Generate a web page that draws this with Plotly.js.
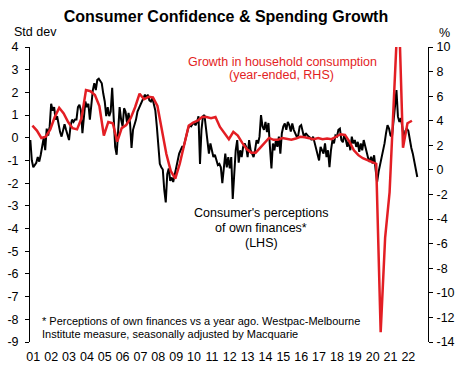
<!DOCTYPE html>
<html>
<head>
<meta charset="utf-8">
<script src="https://cdn.plot.ly/plotly-3.0.1.min.js"></script>
<style>html,body{margin:0;padding:0;background:#fff;}#chart{width:475px;height:373px;}</style>
</head>
<body>
<div id="chart"></div>
<script>
// Consumer's perceptions of own finances (std dev, LHS), monthly from Nov 2000
const perceptionsStart = 2000 + 10 / 12;
const perceptions = [
 -0.1,-1.0,-1.3,-1.2,-1.1,-0.85,-1.05,-0.75,-0.4,0.0,-0.55,0.4,0.1,0.5,1.5,1.2,1.35,0.8,0.95,0.5,
 0.25,0.05,0.4,0.6,0.35,0.05,-0.1,0.5,0.8,0.7,0.8,0.8,1.35,1.45,1.2,0.2,1.1,1.6,1.35,1.5,
 0.8,1.65,2.1,2.4,2.1,2.55,2.6,2.5,2.4,1.95,1.6,0.95,1.35,0.95,1.15,2.2,0.65,-0.4,-0.75,0.35,
 1.35,0.8,0.5,1.3,1.15,0.65,1.1,0.65,-0.45,0.35,0.55,0.8,1.15,1.3,1.45,1.65,1.8,1.9,1.75,1.9,
 1.65,1.6,1.75,1.5,1.2,0.5,-0.4,-1.15,-1.3,-1.4,-2.3,-2.85,-1.6,-1.35,-1.9,-1.75,-1.95,-1.6,-1.3,-1.0,
 -0.7,-0.55,-0.4,-0.4,-0.1,0.2,0.4,0.55,0.5,0.6,0.65,0.55,0.7,0.95,-1.15,0.35,0.95,1.0,0.5,0.05,
 -0.7,-0.25,-0.55,-0.85,-0.75,-1.0,-1.2,-1.15,-1.3,-2.0,-1.35,-0.7,-1.3,-0.85,-1.35,-0.85,-2.7,-1.3,-0.55,-0.1,
 -1.1,-0.55,-0.85,-0.4,-0.25,-0.4,-0.85,-0.1,-0.55,-0.7,-0.85,-0.55,-0.1,-0.25,0.05,1.0,0.5,0.35,0.7,0.25,
 0.65,-0.4,-1.35,-0.25,-0.55,-0.1,-0.4,0.05,-0.7,0.2,0.5,0.63,0.35,0.7,0.56,0.27,0.63,0.35,0.2,0.05,
 0.1,0.5,0.56,0.27,0.0,0.2,0.1,0.05,0.0,-0.1,0.05,-0.25,-0.4,-0.85,-1.0,-0.4,-0.6,-0.7,-0.25,-0.85,
 -0.55,-1.3,-0.55,-0.1,-0.25,0.1,0.05,0.35,0.4,-0.1,-0.2,0.15,-0.1,-0.4,-0.1,-0.55,0.05,-0.25,-0.1,-0.4,
 -0.18,-0.62,-0.25,-0.55,-0.1,-0.4,-0.7,-0.9,-1.06,-0.84,-1.14,-0.77,-1.4,-1.95,-1.5,-1.2,-1.0,-0.55,-0.25,0.2,
 0.56,0.41,0.1,0.05,0.63,1.37,2.1,0.93,0.7,0.86,0.45,-0.1,0.3,0.4,0.3,-0.2,-0.45,-0.7,-1.0,-1.28,-1.73
];
// Growth in household consumption (year-ended %, RHS), quarterly from Dec 2000
const consumptionStart = 2000.95;
const consumption = [
 3.6,3.2,2.6,2.7,3.3, 4.3,5.05,4.6,3.9, 3.4,3.3,4.2,6.5, 6.4,6.1,5.2,2.8,
 3.9,3.8,2.3,3.4, 3.65,4.2,5.1,6.2, 5.75,5.95,5.9,5.2, 3.4,1.3,-0.1,-0.7,
 0.5,2.0,3.6,3.85, 4.0,4.3,4.3,4.2, 4.3,3.5,3.0,2.5, 3.1,2.8,2.2,1.7,
 1.4,1.4,1.8,2.2, 2.6,2.45,2.45,2.6, 2.5,2.45,2.55,2.7, 2.65,2.55,2.5,2.6,
 2.5,2.55,2.5,2.7, 2.9,2.85,2.3,1.6, 1.2,0.95,0.82,0.68, 0.5,-13.2,-5.5,-1.8,
 7.5,14,1.8,3.8, 4.0
];
const yearTicks = [2001,2002,2003,2004,2005,2006,2007,2008,2009,2010,2011,2012,2013,2014,2015,2016,2017,2018,2019,2020,2021,2022];
const yearLabels = ['01','02','03','04','05','06','07','08','09','10','11','12','13','14','15','16','17','18','19','20','21','22'];
const leftTicks = [4,3,2,1,0,-1,-2,-3,-4,-5,-6,-7,-8,-9];
const leftLabels = ['4','3','2','1','0','-1','-2','-3','-4','-5','-6','-7','-8','-9'];
const rightTicks = [10,8,6,4,2,0,-2,-4,-6,-8,-10,-12,-14];
const rightLabels = ['10','8','6','4','2','0','-2','-4','-6','-8','-10','-12','-14'];

const px = perceptions.map((v, i) => perceptionsStart + i / 12);
const cx = consumption.map((v, i) => consumptionStart + i / 4);

const FONT = 'Liberation Sans, Arial, sans-serif';
const RED = 'rgb(227,30,36)';
const xr = [2000.815, 2023.1];

const traces = [
  {x: px, y: perceptions, type: 'scatter', mode: 'lines', xaxis: 'x', yaxis: 'y',
   line: {color: '#000', width: 2}, hoverinfo: 'skip'},
  {x: cx, y: consumption, type: 'scatter', mode: 'lines', xaxis: 'x', yaxis: 'y2',
   line: {color: RED, width: 2.5}, hoverinfo: 'skip'}
];

function pxX(p) { return (p - 30) / 398; }
function pxY(p) { return (342 - p) / 295; }

const ann = (text, x, y, opts) => Object.assign({text, xref: 'paper', yref: 'paper', x: pxX(x), y: pxY(y),
  showarrow: false, xanchor: 'center', yanchor: 'middle', font: {family: FONT, size: 12.5, color: '#000'}}, opts || {});

const layout = {
  width: 475, height: 373,
  margin: {l: 30, r: 47, t: 47, b: 31, pad: 0},
  paper_bgcolor: '#fff', plot_bgcolor: '#fff',
  showlegend: false,
  font: {family: FONT, size: 12.5, color: '#000'},
  title: {text: '<b>Consumer Confidence & Spending Growth</b>', x: 226 / 475, xanchor: 'center',
          y: 1 - 16 / 373, yanchor: 'middle', font: {family: FONT, size: 16, color: '#000'}},
  xaxis: {range: xr, tickvals: yearTicks, ticktext: yearLabels, showline: false, ticks: '',
          showgrid: false, zeroline: false, tickfont: {family: FONT, size: 12.5, color: '#000'},
          ticklabelstandoff: 5, fixedrange: true},
  xaxis2: {overlaying: 'x', anchor: 'free', position: 1 - 4 / 13, range: xr, tickvals: yearTicks,
           showticklabels: false, showline: true, linecolor: '#000', linewidth: 1, ticks: 'outside',
           ticklen: 4, tickcolor: '#000', tickwidth: 1, showgrid: false, zeroline: false, side: 'bottom'},
  yaxis: {range: [-9, 4], tickvals: leftTicks, ticktext: leftLabels, showline: true, linecolor: '#000', linewidth: 1,
          ticks: 'outside', ticklen: 4, tickcolor: '#000', showgrid: false, zeroline: false,
          tickfont: {family: FONT, size: 12.5, color: '#000'}, ticklabelstandoff: 4},
  yaxis2: {range: [-14, 10], tickvals: rightTicks, ticktext: rightLabels, overlaying: 'y', side: 'right', showline: true,
           linecolor: '#000', linewidth: 1, ticks: 'outside', ticklen: 4, tickcolor: '#000',
           showgrid: false, zeroline: false, tickfont: {family: FONT, size: 12.5, color: '#000'},
           ticklabelstandoff: 1},
  annotations: [
    ann('Growth in household consumption', 282, 61.7, {font: {family: FONT, size: 12.5, color: RED}}),
    ann('(year-ended, RHS)', 281.7, 75, {font: {family: FONT, size: 12.5, color: RED}}),
    ann("Consumer's perceptions", 261, 213.3),
    ann('of own finances*', 261, 228.3),
    ann('(LHS)', 261, 243.3),
    ann('* Perceptions of own finances vs a year ago. Westpac-Melbourne', 40, 321,
        {xanchor: 'left', font: {family: FONT, size: 11, color: '#000'}}),
    ann('Institute measure, seasonally adjusted by Macquarie', 40, 334,
        {xanchor: 'left', font: {family: FONT, size: 11, color: '#000'}}),
    ann('Std dev', 11.5, 31.5, {xanchor: 'left'}),
    ann('%', 444, 33)
  ]
};

Plotly.newPlot('chart', traces, layout, {staticPlot: true, displayModeBar: false});
</script>
</body>
</html>
